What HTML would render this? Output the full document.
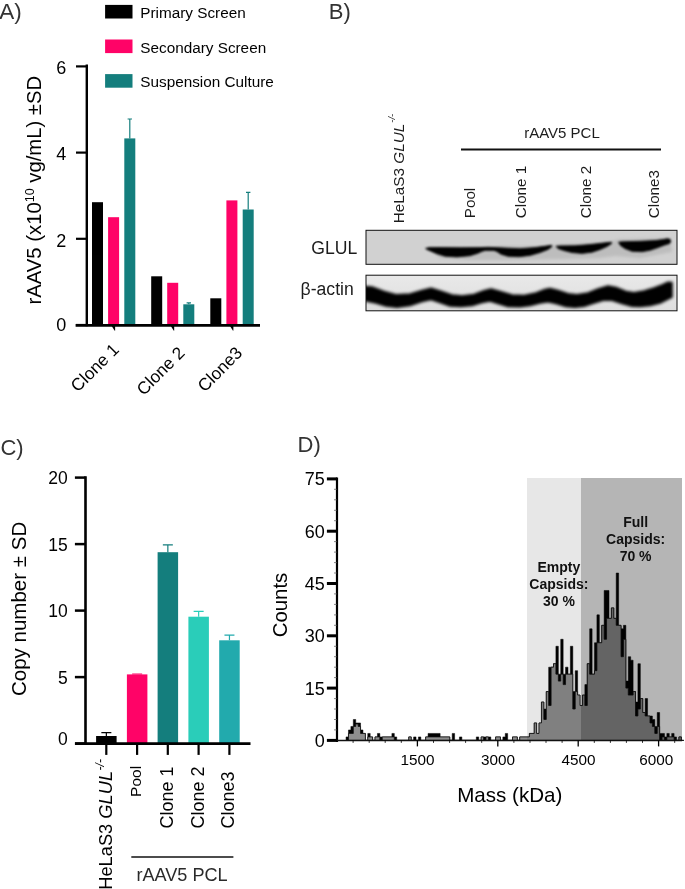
<!DOCTYPE html>
<html><head><meta charset="utf-8"><title>Figure</title>
<style>
html,body{margin:0;padding:0;background:#fff;}
body{width:685px;height:889px;overflow:hidden;font-family:"Liberation Sans",sans-serif;}
svg{display:block;font-family:"Liberation Sans",sans-serif;opacity:0.999;will-change:transform;}
</style></head><body>
<svg width="685" height="889" viewBox="0 0 685 889">
<rect width="685" height="889" fill="#fff"/>
<g id="panelA">
<text x="-0.8" y="18.8" font-size="22.5" fill="#333">A)</text>
<rect x="105.1" y="4.9" width="27.4" height="13.6" fill="#000"/>
<text x="140.3" y="17.9" font-size="15.3" fill="#000">Primary Screen</text>
<rect x="105.1" y="39.5" width="27.4" height="13.6" fill="#FF0367"/>
<text x="140.3" y="52.5" font-size="15.3" fill="#000">Secondary Screen</text>
<rect x="105.1" y="74.1" width="27.4" height="13.6" fill="#147E7D"/>
<text x="140.3" y="87.1" font-size="15.3" fill="#000">Suspension Culture</text>
<rect x="92" y="202.2" width="11" height="122.8" fill="#000"/>
<rect x="108.1" y="217.2" width="11" height="107.8" fill="#FF0367"/>
<rect x="124.3" y="138.4" width="11" height="186.6" fill="#147E7D"/>
<rect x="151.2" y="276.3" width="11" height="48.7" fill="#000"/>
<rect x="167.2" y="282.8" width="11" height="42.2" fill="#FF0367"/>
<rect x="183.3" y="304.3" width="11" height="20.7" fill="#147E7D"/>
<rect x="210.3" y="298.3" width="11" height="26.7" fill="#000"/>
<rect x="226.4" y="200.4" width="11" height="124.6" fill="#FF0367"/>
<rect x="242.7" y="209.5" width="11" height="115.5" fill="#147E7D"/>
<path d="M129.8 138.4V119.0M127.60000000000001 119.0H132.0" stroke="#147E7D" stroke-width="1.2" fill="none"/>
<path d="M188.8 304.3V302.8M186.60000000000002 302.8H191.0" stroke="#147E7D" stroke-width="1.2" fill="none"/>
<path d="M248.2 209.5V192.3M246.0 192.3H250.39999999999998" stroke="#147E7D" stroke-width="1.2" fill="none"/>
<path d="M86.8 64.5V326.15" stroke="#000" stroke-width="2.4" fill="none"/><path d="M75.6 325.35H260" stroke="#000" stroke-width="2.7" fill="none"/>
<path d="M76 325.0H86.8" stroke="#000" stroke-width="2.2"/>
<text x="66.3" y="330.6" font-size="18" text-anchor="end">0</text>
<path d="M76 238.8H86.8" stroke="#000" stroke-width="2.2"/>
<text x="66.3" y="246.5" font-size="18" text-anchor="end">2</text>
<path d="M76 152.6H86.8" stroke="#000" stroke-width="2.2"/>
<text x="66.3" y="160.3" font-size="18" text-anchor="end">4</text>
<path d="M76 66.4H86.8" stroke="#000" stroke-width="2.2"/>
<text x="66.3" y="74.1" font-size="18" text-anchor="end">6</text>
<path d="M111.7 326.0H115.10000000000001V330.8L114.5 330.6Z" fill="#000"/>
<text transform="translate(120 350.7) rotate(-45)" font-size="17.3" text-anchor="end">Clone 1</text>
<path d="M170.8 326.0H174.20000000000002V330.8L173.60000000000002 330.6Z" fill="#000"/>
<text transform="translate(185.8 354) rotate(-45)" font-size="17.3" text-anchor="end">Clone 2</text>
<path d="M230.0 326.0H233.4V330.8L232.8 330.6Z" fill="#000"/>
<text transform="translate(243.4 354) rotate(-45)" font-size="17.3" text-anchor="end">Clone3</text>
<text transform="translate(41 304.5) rotate(-90)" font-size="20.3">rAAV5 (x10<tspan font-size="12.5" dy="-7">10</tspan><tspan dy="7"> vg/mL) ±SD</tspan></text>
</g>
<g id="panelB">
<text x="328.8" y="19.3" font-size="22" fill="#333">B)</text>
<text transform="translate(404 223.2) rotate(-90)" font-size="15.3" fill="#1c1c1c">HeLaS3 <tspan font-style="italic">GLUL</tspan><tspan font-size="9.5" dy="-9.5" dx="1" font-style="italic">-/-</tspan></text>
<text x="562" y="137.8" font-size="15" text-anchor="middle" fill="#1c1c1c">rAAV5 PCL</text>
<path d="M461 149.5H661" stroke="#111" stroke-width="1.8"/>
<text transform="translate(475 218.2) rotate(-90)" font-size="15.2" fill="#1c1c1c">Pool</text>
<text transform="translate(525.5 218.2) rotate(-90)" font-size="15.2" fill="#1c1c1c">Clone 1</text>
<text transform="translate(590.5 218.2) rotate(-90)" font-size="15.2" fill="#1c1c1c">Clone 2</text>
<text transform="translate(658.8 218.2) rotate(-90)" font-size="15.2" fill="#1c1c1c">Clone3</text>
<text x="311.3" y="253.8" font-size="17.6" fill="#1c1c1c">GLUL</text>
<text x="300.6" y="295.2" font-size="17.6" fill="#1c1c1c">β-actin</text>
<defs><filter id="bl" x="-5%" y="-50%" width="110%" height="200%"><feGaussianBlur stdDeviation="0.9"/></filter><filter id="bl2" x="-5%" y="-50%" width="110%" height="200%"><feGaussianBlur stdDeviation="1.5"/></filter><clipPath id="c1"><rect x="366" y="230.3" width="311" height="34"/></clipPath><clipPath id="c2"><rect x="366" y="275.2" width="311" height="35.6"/></clipPath><linearGradient id="ga" x1="0" y1="0" x2="0" y2="1"><stop offset="0" stop-color="#e9e9e9"/><stop offset="1" stop-color="#dedede"/></linearGradient></defs>
<rect x="366" y="230.3" width="311" height="34" fill="#d1d1d1"/>
<g clip-path="url(#c1)">
<g filter="url(#bl2)" fill="#bdbdbd"><path d="M428 247 L480 248 L500 246 L550 246 L560 244 L608 242 L620 239 L670 238 L672 252 L640 258 L615 256 L600 258 L560 259 L500 260 L470 260 L440 258 Z"/></g>
<g filter="url(#bl)" fill="#050505">
<path d="M425.5 248.4 L429 247.6 L440 247.5 L460 247.7 L480 247.6 L488 247.3 L495 247.6 L505 248.1 L520 248.7 L535 247.6 L545 246.2 L551.5 245.2 L552 246.6 L548 249.4 L540 252.6 L530 255.4 L519 256.7 L508 256.3 L501 254.2 L497 251.6 L494 250.4 L485 250.4 L481.5 251.6 L478 253.2 L470 255.7 L457 256.9 L445 256.2 L437 253.8 L430.5 251 L426.5 249.3Z" stroke="#050505" stroke-width="0.8" stroke-linejoin="round"/>
<path d="M556 246.3 L560 245.9 L575 245.8 L590 244.6 L600 243.4 L607 242.6 L611.5 242.2 L611.5 243.6 L607 246.5 L600 249.6 L592 252.2 L582 253.4 L572 252.6 L564 250.6 L558 248.6Z" stroke="#050505" stroke-width="0.8" stroke-linejoin="round"/>
<path d="M618.5 242.2 L622 241.8 L640 241.3 L655 240.6 L663 239.6 L667 238.7 L670 239.2 L670.8 241.5 L669.5 243.6 L664 245.2 L658 247.6 L650 250.3 L642 251.7 L632 251.3 L625 248.6 L620.5 245.6Z" stroke="#050505" stroke-width="0.8" stroke-linejoin="round"/>
</g></g>
<rect x="366" y="230.3" width="311" height="34" fill="none" stroke="#111" stroke-width="1"/>
<rect x="366" y="275.2" width="311" height="35.6" fill="url(#ga)"/>
<g clip-path="url(#c2)"><g filter="url(#bl2)">
<path d="M364 286.5 L372 287 L384 291.5 L396 294.8 L410 294 L422 290.5 L431 288.2 L440 291 L452 295 L462 296 L474 294.5 L484 290.8 L491 289 L500 291.5 L512 295 L524 295.5 L536 293 L545 289.5 L550 288.5 L558 290.5 L568 293.8 L577 294.8 L588 293 L598 289 L608 286 L616 287.5 L626 291.5 L634 292.8 L644 291 L654 288 L662 285 L668 282.3 L672 282.5 L672 297 L668 299 L660 303 L650 305.5 L640 306.5 L632 306.3 L622 303.5 L612 300.3 L604 300 L594 303 L584 306.3 L575 307.3 L566 306.5 L556 303.5 L548 301.8 L540 303 L530 305.5 L520 306.8 L508 306.5 L498 303.5 L490 301 L482 302.5 L472 305.5 L461 306.6 L450 306 L440 302.5 L431 299.5 L422 301.5 L410 305.5 L397 307.3 L386 306 L376 303 L364 300.5Z" fill="#030303" stroke="#030303" stroke-width="1.5" stroke-linejoin="round"/>
</g></g>
<rect x="366" y="275.2" width="311" height="35.6" fill="none" stroke="#111" stroke-width="1"/>
</g>
<g id="panelC">
<text x="0.4" y="454.8" font-size="22" fill="#333">C)</text>
<rect x="96.1" y="736.0" width="20.5" height="7.6" fill="#000"/>
<path d="M106.35 736.0V732.7M101.35 732.7H111.35" stroke="#000" stroke-width="1.2" fill="none"/>
<rect x="126.9" y="674.4" width="20.5" height="69.2" fill="#FF0367"/>
<path d="M137.15 674.4V674.0M132.15 674.0H142.15" stroke="#FF0367" stroke-width="1.2" fill="none"/>
<rect x="157.6" y="552.2" width="20.5" height="191.4" fill="#147E7D"/>
<path d="M167.85 552.2V544.9M162.85 544.9H172.85" stroke="#147E7D" stroke-width="1.2" fill="none"/>
<rect x="188.4" y="616.7" width="20.5" height="126.9" fill="#2ACDB9"/>
<path d="M198.65 616.7V611.4M193.65 611.4H203.65" stroke="#2ACDB9" stroke-width="1.2" fill="none"/>
<rect x="219.2" y="640.3" width="20.5" height="103.3" fill="#22AAAD"/>
<path d="M229.45 640.3V635.2M224.45 635.2H234.45" stroke="#22AAAD" stroke-width="1.2" fill="none"/>
<path d="M85.5 476.3V744.9M75 743.6H250.5" stroke="#000" stroke-width="2.6" fill="none"/>
<path d="M74.9 743.6H85.5" stroke="#000" stroke-width="2.5"/>
<text x="67.8" y="745.0" font-size="17.5" text-anchor="end">0</text>
<path d="M74.9 677.1H85.5" stroke="#000" stroke-width="2.5"/>
<text x="67.8" y="683.7" font-size="17.5" text-anchor="end">5</text>
<path d="M74.9 610.6H85.5" stroke="#000" stroke-width="2.5"/>
<text x="67.8" y="617.2" font-size="17.5" text-anchor="end">10</text>
<path d="M74.9 544.1H85.5" stroke="#000" stroke-width="2.5"/>
<text x="67.8" y="550.7" font-size="17.5" text-anchor="end">15</text>
<path d="M74.9 477.6H85.5" stroke="#000" stroke-width="2.5"/>
<text x="67.8" y="484.2" font-size="17.5" text-anchor="end">20</text>
<path d="M106.3 743.6V754.9" stroke="#000" stroke-width="2.2"/>
<path d="M137.1 743.6V754.9" stroke="#000" stroke-width="2.2"/>
<path d="M167.8 743.6V754.9" stroke="#000" stroke-width="2.2"/>
<path d="M198.6 743.6V754.9" stroke="#000" stroke-width="2.2"/>
<path d="M229.4 743.6V754.9" stroke="#000" stroke-width="2.2"/>
<text transform="translate(26 696) rotate(-90)" font-size="20.5">Copy number ± SD</text>
<text transform="translate(111.8 889.8) rotate(-90)" font-size="18.3">HeLaS3 <tspan font-style="italic">GLUL</tspan><tspan font-size="12" dy="-7.5" dx="0.5" font-style="italic">-/-</tspan></text>
<text transform="translate(140.6 796.9) rotate(-90)" font-size="15.5">Pool</text>
<text transform="translate(173 828.5) rotate(-90)" font-size="18">Clone 1</text>
<text transform="translate(203.6 828.5) rotate(-90)" font-size="18">Clone 2</text>
<text transform="translate(233.8 828.5) rotate(-90)" font-size="18">Clone3</text>
<path d="M131.3 857H233.4" stroke="#111" stroke-width="1.5"/>
<text x="182" y="880.8" font-size="18.1" text-anchor="middle" fill="#2a2a2a">rAAV5 PCL</text>
</g>
<g id="panelD">
<text x="297.5" y="452" font-size="22" fill="#333">D)</text>
<path d="M346.07 740.40 L346.07 740.40 L346.07 736.91 L348.48 736.91 L348.48 729.94 L350.89 729.94 L350.89 726.45 L353.31 726.45 L353.31 719.48 L355.72 719.48 L355.72 722.96 L360.54 722.96 L360.54 729.94 L362.95 729.94 L362.95 733.43 L365.37 733.43 L365.37 740.40 L367.78 740.40 L367.78 733.43 L370.19 733.43 L370.19 736.91 L372.60 736.91 L372.60 740.40 L375.01 740.40 L375.01 736.91 L377.43 736.91 L377.43 733.43 L379.84 733.43 L379.84 736.91 L391.90 736.91 L391.90 733.43 L394.31 733.43 L394.31 736.91 L396.72 736.91 L396.72 740.40 L408.78 740.40 L408.78 736.91 L411.19 736.91 L411.19 740.40 L413.61 740.40 L413.61 736.91 L416.02 736.91 L416.02 740.40 L418.43 740.40 L418.43 736.91 L420.84 736.91 L420.84 740.40 L425.67 740.40 L425.67 736.91 L428.08 736.91 L428.08 733.43 L440.14 733.43 L440.14 736.91 L449.79 736.91 L449.79 740.40 L452.20 740.40 L452.20 733.43 L454.61 733.43 L454.61 740.40 L459.43 740.40 L459.43 736.91 L461.85 736.91 L461.85 740.40 L476.32 740.40 L476.32 736.91 L478.73 736.91 L478.73 740.40 L481.14 740.40 L481.14 736.91 L490.79 736.91 L490.79 740.40 L495.61 740.40 L495.61 736.91 L500.44 736.91 L500.44 740.40 L502.85 740.40 L502.85 736.91 L505.26 736.91 L505.26 733.43 L507.67 733.43 L507.67 740.40 L512.50 740.40 L512.50 736.91 L517.32 736.91 L517.32 740.40 L519.73 740.40 L519.73 736.91 L529.38 736.91 L529.38 733.43 L534.21 733.43 L534.21 722.96 L536.62 722.96 L536.62 733.43 L539.03 733.43 L539.03 722.96 L541.44 722.96 L541.44 702.04 L543.85 702.04 L543.85 709.02 L546.27 709.02 L546.27 691.58 L548.68 691.58 L548.68 667.17 L553.50 667.17 L553.50 663.69 L555.91 663.69 L555.91 646.25 L558.33 646.25 L558.33 674.15 L560.74 674.15 L560.74 639.28 L563.15 639.28 L563.15 674.15 L565.56 674.15 L565.56 667.17 L567.97 667.17 L567.97 674.15 L570.39 674.15 L570.39 646.25 L572.80 646.25 L572.80 691.58 L575.21 691.58 L575.21 670.66 L577.62 670.66 L577.62 695.07 L580.03 695.07 L580.03 705.53 L582.45 705.53 L582.45 695.07 L584.86 695.07 L584.86 684.61 L587.27 684.61 L587.27 663.69 L589.68 663.69 L589.68 628.82 L592.09 628.82 L592.09 674.15 L594.51 674.15 L594.51 642.76 L596.92 642.76 L596.92 614.87 L599.33 614.87 L599.33 642.76 L601.74 642.76 L601.74 625.33 L604.15 625.33 L604.15 590.46 L608.98 590.46 L608.98 618.36 L611.39 618.36 L611.39 607.89 L613.80 607.89 L613.80 618.36 L616.21 618.36 L616.21 573.02 L618.63 573.02 L618.63 625.33 L621.04 625.33 L621.04 628.82 L623.45 628.82 L623.45 625.33 L625.86 625.33 L625.86 681.12 L628.27 681.12 L628.27 656.71 L630.69 656.71 L630.69 660.20 L633.10 660.20 L633.10 691.58 L635.51 691.58 L635.51 702.04 L637.92 702.04 L637.92 663.69 L640.33 663.69 L640.33 698.56 L642.75 698.56 L642.75 712.50 L645.16 712.50 L645.16 698.56 L647.57 698.56 L647.57 715.99 L652.39 715.99 L652.39 719.48 L654.81 719.48 L654.81 726.45 L657.22 726.45 L657.22 712.50 L659.63 712.50 L659.63 733.43 L664.45 733.43 L664.45 736.91 L666.87 736.91 L666.87 733.43 L669.28 733.43 L669.28 736.91 L671.69 736.91 L671.69 733.43 L674.10 733.43 L674.10 736.91 L676.51 736.91 L676.51 740.40 L678.93 740.40 L678.93 736.91 L681.34 736.91 L681.34 740.40 L683.75 740.40Z" fill="#000" stroke="#000" stroke-width="0.5"/>
<path d="M346.07 740.40 L348.48 740.40 L348.48 733.43 L353.31 733.43 L353.31 726.45 L355.72 726.45 L355.72 724.01 L358.13 724.01 L358.13 726.45 L360.54 726.45 L360.54 733.43 L365.37 733.43 L365.37 740.40 L367.78 740.40 L367.78 736.91 L372.60 736.91 L372.60 740.40 L375.01 740.40 L375.01 736.91 L379.84 736.91 L379.84 740.40 L382.25 740.40 L382.25 736.91 L394.31 736.91 L394.31 740.40 L408.78 740.40 L408.78 736.91 L411.19 736.91 L411.19 740.40 L425.67 740.40 L425.67 736.91 L449.79 736.91 L449.79 740.40 L481.14 740.40 L481.14 736.91 L483.55 736.91 L483.55 740.40 L485.97 740.40 L485.97 736.91 L488.38 736.91 L488.38 740.40 L495.61 740.40 L495.61 736.91 L500.44 736.91 L500.44 740.40 L512.50 740.40 L512.50 736.91 L517.32 736.91 L517.32 740.40 L519.73 740.40 L519.73 736.91 L529.38 736.91 L529.38 733.43 L534.21 733.43 L534.21 722.96 L536.62 722.96 L536.62 733.43 L539.03 733.43 L539.03 722.96 L541.44 722.96 L541.44 702.04 L543.85 702.04 L543.85 719.48 L546.27 719.48 L546.27 691.58 L548.68 691.58 L548.68 705.53 L551.09 705.53 L551.09 667.17 L553.50 667.17 L553.50 663.69 L555.91 663.69 L555.91 674.15 L558.33 674.15 L558.33 681.12 L560.74 681.12 L560.74 674.15 L563.15 674.15 L563.15 684.61 L565.56 684.61 L565.56 674.15 L572.80 674.15 L572.80 709.02 L575.21 709.02 L575.21 691.58 L577.62 691.58 L577.62 695.07 L580.03 695.07 L580.03 705.53 L582.45 705.53 L582.45 695.07 L584.86 695.07 L584.86 705.53 L587.27 705.53 L587.27 663.69 L589.68 663.69 L589.68 674.15 L594.51 674.15 L594.51 670.66 L596.92 670.66 L596.92 642.76 L601.74 642.76 L601.74 625.33 L604.15 625.33 L604.15 639.28 L606.57 639.28 L606.57 618.36 L611.39 618.36 L611.39 607.89 L613.80 607.89 L613.80 618.36 L616.21 618.36 L616.21 625.33 L621.04 625.33 L621.04 656.71 L623.45 656.71 L623.45 639.28 L625.86 639.28 L625.86 688.10 L628.27 688.10 L628.27 695.07 L633.10 695.07 L633.10 691.58 L635.51 691.58 L635.51 715.99 L637.92 715.99 L637.92 709.02 L640.33 709.02 L640.33 698.56 L642.75 698.56 L642.75 712.50 L645.16 712.50 L645.16 715.99 L649.98 715.99 L649.98 722.96 L652.39 722.96 L652.39 726.45 L654.81 726.45 L654.81 733.43 L657.22 733.43 L657.22 726.45 L659.63 726.45 L659.63 740.40 L662.04 740.40 L662.04 736.91 L664.45 736.91 L664.45 740.40 L666.87 740.40 L666.87 736.91 L674.10 736.91 L674.10 740.40 L678.93 740.40 L678.93 736.91 L681.34 736.91 L681.34 740.40 L683.75 740.40Z" fill="#8e8e8e" stroke="#111" stroke-width="0.8" stroke-linejoin="miter"/>
<rect x="527" y="478" width="54" height="262.6" fill="#000" opacity="0.094"/>
<rect x="581" y="478" width="101" height="262.6" fill="#000" opacity="0.29"/>
<path d="M337.0 477.4V741.9" stroke="#000" stroke-width="2.2"/>
<path d="M337.0 740.4H682" stroke="#111" stroke-width="1.5"/>
<path d="M326.9 740.4H337.0" stroke="#000" stroke-width="3"/>
<text x="324.8" y="746.9" font-size="18" text-anchor="end">0</text>
<path d="M326.9 688.1H337.0" stroke="#000" stroke-width="3"/>
<text x="324.8" y="694.6" font-size="18" text-anchor="end">15</text>
<path d="M326.9 635.8H337.0" stroke="#000" stroke-width="3"/>
<text x="324.8" y="642.3" font-size="18" text-anchor="end">30</text>
<path d="M326.9 583.5H337.0" stroke="#000" stroke-width="3"/>
<text x="324.8" y="590.0" font-size="18" text-anchor="end">45</text>
<path d="M326.9 531.2H337.0" stroke="#000" stroke-width="3"/>
<text x="324.8" y="537.7" font-size="18" text-anchor="end">60</text>
<path d="M326.9 478.9H337.0" stroke="#000" stroke-width="3"/>
<text x="324.8" y="485.4" font-size="18" text-anchor="end">75</text>
<path d="M334 729.9H337.0" stroke="#555" stroke-width="0.7"/>
<path d="M334 719.5H337.0" stroke="#555" stroke-width="0.7"/>
<path d="M334 709.0H337.0" stroke="#555" stroke-width="0.7"/>
<path d="M334 698.6H337.0" stroke="#555" stroke-width="0.7"/>
<path d="M334 677.6H337.0" stroke="#555" stroke-width="0.7"/>
<path d="M334 667.2H337.0" stroke="#555" stroke-width="0.7"/>
<path d="M334 656.7H337.0" stroke="#555" stroke-width="0.7"/>
<path d="M334 646.3H337.0" stroke="#555" stroke-width="0.7"/>
<path d="M334 625.3H337.0" stroke="#555" stroke-width="0.7"/>
<path d="M334 614.9H337.0" stroke="#555" stroke-width="0.7"/>
<path d="M334 604.4H337.0" stroke="#555" stroke-width="0.7"/>
<path d="M334 593.9H337.0" stroke="#555" stroke-width="0.7"/>
<path d="M334 573.0H337.0" stroke="#555" stroke-width="0.7"/>
<path d="M334 562.6H337.0" stroke="#555" stroke-width="0.7"/>
<path d="M334 552.1H337.0" stroke="#555" stroke-width="0.7"/>
<path d="M334 541.6H337.0" stroke="#555" stroke-width="0.7"/>
<path d="M334 520.7H337.0" stroke="#555" stroke-width="0.7"/>
<path d="M334 510.3H337.0" stroke="#555" stroke-width="0.7"/>
<path d="M334 499.8H337.0" stroke="#555" stroke-width="0.7"/>
<path d="M334 489.3H337.0" stroke="#555" stroke-width="0.7"/>
<path d="M353.1 740.4V742.9" stroke="#000" stroke-width="0.8"/>
<path d="M369.2 740.4V742.9" stroke="#000" stroke-width="0.8"/>
<path d="M385.2 740.4V742.9" stroke="#000" stroke-width="0.8"/>
<path d="M401.3 740.4V742.9" stroke="#000" stroke-width="0.8"/>
<path d="M417.4 740.4V746.4" stroke="#000" stroke-width="1.3"/>
<text x="417.6" y="765.3" font-size="15.3" text-anchor="middle">1500</text>
<path d="M433.5 740.4V742.9" stroke="#000" stroke-width="0.8"/>
<path d="M449.6 740.4V742.9" stroke="#000" stroke-width="0.8"/>
<path d="M465.6 740.4V742.9" stroke="#000" stroke-width="0.8"/>
<path d="M481.7 740.4V742.9" stroke="#000" stroke-width="0.8"/>
<path d="M497.8 740.4V746.4" stroke="#000" stroke-width="1.3"/>
<text x="498.0" y="765.3" font-size="15.3" text-anchor="middle">3000</text>
<path d="M513.9 740.4V742.9" stroke="#000" stroke-width="0.8"/>
<path d="M530.0 740.4V742.9" stroke="#000" stroke-width="0.8"/>
<path d="M546.0 740.4V742.9" stroke="#000" stroke-width="0.8"/>
<path d="M562.1 740.4V742.9" stroke="#000" stroke-width="0.8"/>
<path d="M578.2 740.4V746.4" stroke="#000" stroke-width="1.3"/>
<text x="578.4" y="765.3" font-size="15.3" text-anchor="middle">4500</text>
<path d="M594.3 740.4V742.9" stroke="#000" stroke-width="0.8"/>
<path d="M610.4 740.4V742.9" stroke="#000" stroke-width="0.8"/>
<path d="M626.4 740.4V742.9" stroke="#000" stroke-width="0.8"/>
<path d="M642.5 740.4V742.9" stroke="#000" stroke-width="0.8"/>
<path d="M658.6 740.4V746.4" stroke="#000" stroke-width="1.3"/>
<text x="656.3" y="765.3" font-size="15.3" text-anchor="middle">6000</text>
<path d="M674.7 740.4V742.9" stroke="#000" stroke-width="0.8"/>
<text transform="translate(286.8 637.3) rotate(-90)" font-size="20.4">Counts</text>
<text x="509.8" y="801.8" font-size="20.6" text-anchor="middle">Mass (kDa)</text>
<text x="635.6" y="527.0" font-size="14" font-weight="bold" text-anchor="middle" fill="#111">Full</text>
<text x="635.6" y="543.9" font-size="14" font-weight="bold" text-anchor="middle" fill="#111">Capsids:</text>
<text x="635.6" y="560.8" font-size="14" font-weight="bold" text-anchor="middle" fill="#111">70 %</text>
<text x="558.9" y="572.2" font-size="14" font-weight="bold" text-anchor="middle" fill="#111">Empty</text>
<text x="558.9" y="589.1" font-size="14" font-weight="bold" text-anchor="middle" fill="#111">Capsids:</text>
<text x="558.9" y="606.0" font-size="14" font-weight="bold" text-anchor="middle" fill="#111">30 %</text>
</g>
</svg>
</body></html>
